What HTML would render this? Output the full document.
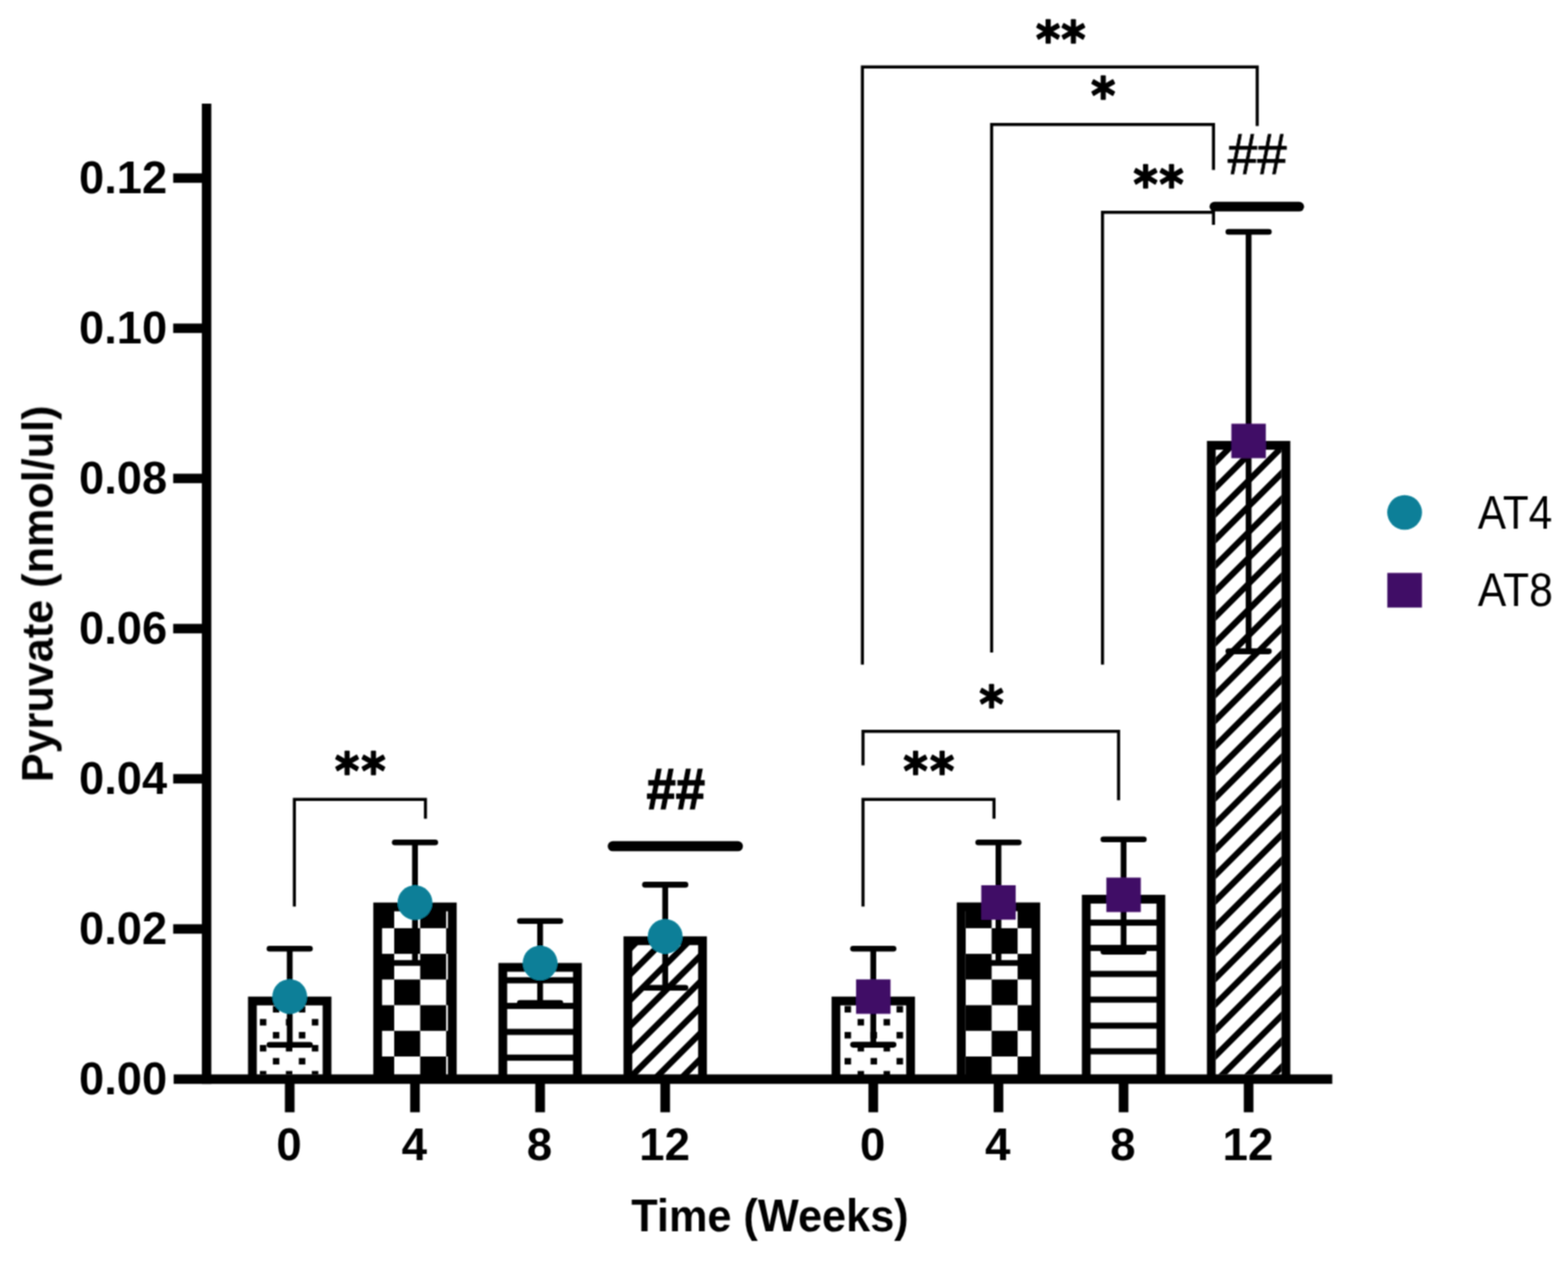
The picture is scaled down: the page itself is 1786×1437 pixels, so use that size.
<!DOCTYPE html><html><head><meta charset="utf-8"><title>Pyruvate</title><style>html,body{margin:0;padding:0;background:#fff;}svg{display:block;}</style></head><body>
<svg width="1786" height="1437" viewBox="0 0 1786 1437">
<rect width="100%" height="100%" fill="#fff"/>
<defs>
<filter id="soft" x="0" y="0" width="1786" height="1437" filterUnits="userSpaceOnUse"><feConvolveMatrix order="3" kernelMatrix="1 2 1 2 4 2 1 2 1" edgeMode="duplicate"/></filter>
<clipPath id="cb0"><rect x="292.50" y="1144.80" width="75.00" height="78.60"/></clipPath>
<clipPath id="cb1"><rect x="435.20" y="1037.70" width="75.00" height="185.70"/></clipPath>
<clipPath id="cb2"><rect x="577.70" y="1106.50" width="75.00" height="116.90"/></clipPath>
<clipPath id="cb3"><rect x="720.20" y="1076.20" width="75.00" height="147.20"/></clipPath>
<clipPath id="cb4"><rect x="957.20" y="1144.80" width="75.00" height="78.60"/></clipPath>
<clipPath id="cb5"><rect x="1099.80" y="1037.60" width="75.00" height="185.80"/></clipPath>
<clipPath id="cb6"><rect x="1242.30" y="1028.90" width="75.00" height="194.50"/></clipPath>
<clipPath id="cb7"><rect x="1384.70" y="512.10" width="75.00" height="711.30"/></clipPath>
</defs>
<g filter="url(#soft)">
<g clip-path="url(#cb0)" fill="#000"><rect x="222.00" y="1145.50" width="7.4" height="7.4"/><rect x="222.00" y="1175.10" width="7.4" height="7.4"/><rect x="222.00" y="1204.70" width="7.4" height="7.4"/><rect x="222.00" y="1234.30" width="7.4" height="7.4"/><rect x="251.60" y="1145.50" width="7.4" height="7.4"/><rect x="251.60" y="1175.10" width="7.4" height="7.4"/><rect x="251.60" y="1204.70" width="7.4" height="7.4"/><rect x="251.60" y="1234.30" width="7.4" height="7.4"/><rect x="281.20" y="1145.50" width="7.4" height="7.4"/><rect x="281.20" y="1175.10" width="7.4" height="7.4"/><rect x="281.20" y="1204.70" width="7.4" height="7.4"/><rect x="281.20" y="1234.30" width="7.4" height="7.4"/><rect x="310.80" y="1145.50" width="7.4" height="7.4"/><rect x="310.80" y="1175.10" width="7.4" height="7.4"/><rect x="310.80" y="1204.70" width="7.4" height="7.4"/><rect x="310.80" y="1234.30" width="7.4" height="7.4"/><rect x="340.40" y="1145.50" width="7.4" height="7.4"/><rect x="340.40" y="1175.10" width="7.4" height="7.4"/><rect x="340.40" y="1204.70" width="7.4" height="7.4"/><rect x="340.40" y="1234.30" width="7.4" height="7.4"/><rect x="370.00" y="1145.50" width="7.4" height="7.4"/><rect x="370.00" y="1175.10" width="7.4" height="7.4"/><rect x="370.00" y="1204.70" width="7.4" height="7.4"/><rect x="370.00" y="1234.30" width="7.4" height="7.4"/><rect x="399.60" y="1145.50" width="7.4" height="7.4"/><rect x="399.60" y="1175.10" width="7.4" height="7.4"/><rect x="399.60" y="1204.70" width="7.4" height="7.4"/><rect x="399.60" y="1234.30" width="7.4" height="7.4"/><rect x="429.20" y="1145.50" width="7.4" height="7.4"/><rect x="429.20" y="1175.10" width="7.4" height="7.4"/><rect x="429.20" y="1204.70" width="7.4" height="7.4"/><rect x="429.20" y="1234.30" width="7.4" height="7.4"/><rect x="236.80" y="1130.70" width="7.4" height="7.4"/><rect x="236.80" y="1160.30" width="7.4" height="7.4"/><rect x="236.80" y="1189.90" width="7.4" height="7.4"/><rect x="236.80" y="1219.50" width="7.4" height="7.4"/><rect x="266.40" y="1130.70" width="7.4" height="7.4"/><rect x="266.40" y="1160.30" width="7.4" height="7.4"/><rect x="266.40" y="1189.90" width="7.4" height="7.4"/><rect x="266.40" y="1219.50" width="7.4" height="7.4"/><rect x="296.00" y="1130.70" width="7.4" height="7.4"/><rect x="296.00" y="1160.30" width="7.4" height="7.4"/><rect x="296.00" y="1189.90" width="7.4" height="7.4"/><rect x="296.00" y="1219.50" width="7.4" height="7.4"/><rect x="325.60" y="1130.70" width="7.4" height="7.4"/><rect x="325.60" y="1160.30" width="7.4" height="7.4"/><rect x="325.60" y="1189.90" width="7.4" height="7.4"/><rect x="325.60" y="1219.50" width="7.4" height="7.4"/><rect x="355.20" y="1130.70" width="7.4" height="7.4"/><rect x="355.20" y="1160.30" width="7.4" height="7.4"/><rect x="355.20" y="1189.90" width="7.4" height="7.4"/><rect x="355.20" y="1219.50" width="7.4" height="7.4"/><rect x="384.80" y="1130.70" width="7.4" height="7.4"/><rect x="384.80" y="1160.30" width="7.4" height="7.4"/><rect x="384.80" y="1189.90" width="7.4" height="7.4"/><rect x="384.80" y="1219.50" width="7.4" height="7.4"/><rect x="414.40" y="1130.70" width="7.4" height="7.4"/><rect x="414.40" y="1160.30" width="7.4" height="7.4"/><rect x="414.40" y="1189.90" width="7.4" height="7.4"/><rect x="414.40" y="1219.50" width="7.4" height="7.4"/></g>
<g clip-path="url(#cb1)" fill="#000"><rect x="360.20" y="1027.68" width="29.60" height="29.22"/><rect x="360.20" y="1086.12" width="29.60" height="29.22"/><rect x="360.20" y="1144.56" width="29.60" height="29.22"/><rect x="360.20" y="1203.00" width="29.60" height="29.22"/><rect x="389.80" y="998.46" width="29.60" height="29.22"/><rect x="389.80" y="1056.90" width="29.60" height="29.22"/><rect x="389.80" y="1115.34" width="29.60" height="29.22"/><rect x="389.80" y="1173.78" width="29.60" height="29.22"/><rect x="389.80" y="1232.22" width="29.60" height="29.22"/><rect x="419.40" y="1027.68" width="29.60" height="29.22"/><rect x="419.40" y="1086.12" width="29.60" height="29.22"/><rect x="419.40" y="1144.56" width="29.60" height="29.22"/><rect x="419.40" y="1203.00" width="29.60" height="29.22"/><rect x="449.00" y="998.46" width="29.60" height="29.22"/><rect x="449.00" y="1056.90" width="29.60" height="29.22"/><rect x="449.00" y="1115.34" width="29.60" height="29.22"/><rect x="449.00" y="1173.78" width="29.60" height="29.22"/><rect x="449.00" y="1232.22" width="29.60" height="29.22"/><rect x="478.60" y="1027.68" width="29.60" height="29.22"/><rect x="478.60" y="1086.12" width="29.60" height="29.22"/><rect x="478.60" y="1144.56" width="29.60" height="29.22"/><rect x="478.60" y="1203.00" width="29.60" height="29.22"/><rect x="508.20" y="998.46" width="29.60" height="29.22"/><rect x="508.20" y="1056.90" width="29.60" height="29.22"/><rect x="508.20" y="1115.34" width="29.60" height="29.22"/><rect x="508.20" y="1173.78" width="29.60" height="29.22"/><rect x="508.20" y="1232.22" width="29.60" height="29.22"/><rect x="537.80" y="1027.68" width="29.60" height="29.22"/><rect x="537.80" y="1086.12" width="29.60" height="29.22"/><rect x="537.80" y="1144.56" width="29.60" height="29.22"/><rect x="537.80" y="1203.00" width="29.60" height="29.22"/></g>
<g clip-path="url(#cb2)" fill="#000"><rect x="565.20" y="1112.70" width="100" height="7"/><rect x="565.20" y="1141.90" width="100" height="7"/><rect x="565.20" y="1171.50" width="100" height="7"/><rect x="565.20" y="1200.80" width="100" height="7"/></g>
<g clip-path="url(#cb3)" stroke="#000" stroke-width="7"><line x1="697.70" y1="1070.70" x2="817.70" y2="950.70"/><line x1="697.70" y1="1100.10" x2="817.70" y2="980.10"/><line x1="697.70" y1="1129.50" x2="817.70" y2="1009.50"/><line x1="697.70" y1="1158.90" x2="817.70" y2="1038.90"/><line x1="697.70" y1="1188.30" x2="817.70" y2="1068.30"/><line x1="697.70" y1="1217.70" x2="817.70" y2="1097.70"/><line x1="697.70" y1="1247.10" x2="817.70" y2="1127.10"/><line x1="697.70" y1="1276.50" x2="817.70" y2="1156.50"/><line x1="697.70" y1="1305.90" x2="817.70" y2="1185.90"/><line x1="697.70" y1="1335.30" x2="817.70" y2="1215.30"/><line x1="697.70" y1="1364.70" x2="817.70" y2="1244.70"/></g>
<g clip-path="url(#cb4)" fill="#000"><rect x="902.80" y="1145.50" width="7.4" height="7.4"/><rect x="902.80" y="1175.10" width="7.4" height="7.4"/><rect x="902.80" y="1204.70" width="7.4" height="7.4"/><rect x="902.80" y="1234.30" width="7.4" height="7.4"/><rect x="932.40" y="1145.50" width="7.4" height="7.4"/><rect x="932.40" y="1175.10" width="7.4" height="7.4"/><rect x="932.40" y="1204.70" width="7.4" height="7.4"/><rect x="932.40" y="1234.30" width="7.4" height="7.4"/><rect x="962.00" y="1145.50" width="7.4" height="7.4"/><rect x="962.00" y="1175.10" width="7.4" height="7.4"/><rect x="962.00" y="1204.70" width="7.4" height="7.4"/><rect x="962.00" y="1234.30" width="7.4" height="7.4"/><rect x="991.60" y="1145.50" width="7.4" height="7.4"/><rect x="991.60" y="1175.10" width="7.4" height="7.4"/><rect x="991.60" y="1204.70" width="7.4" height="7.4"/><rect x="991.60" y="1234.30" width="7.4" height="7.4"/><rect x="1021.20" y="1145.50" width="7.4" height="7.4"/><rect x="1021.20" y="1175.10" width="7.4" height="7.4"/><rect x="1021.20" y="1204.70" width="7.4" height="7.4"/><rect x="1021.20" y="1234.30" width="7.4" height="7.4"/><rect x="1050.80" y="1145.50" width="7.4" height="7.4"/><rect x="1050.80" y="1175.10" width="7.4" height="7.4"/><rect x="1050.80" y="1204.70" width="7.4" height="7.4"/><rect x="1050.80" y="1234.30" width="7.4" height="7.4"/><rect x="1080.40" y="1145.50" width="7.4" height="7.4"/><rect x="1080.40" y="1175.10" width="7.4" height="7.4"/><rect x="1080.40" y="1204.70" width="7.4" height="7.4"/><rect x="1080.40" y="1234.30" width="7.4" height="7.4"/><rect x="888.00" y="1130.70" width="7.4" height="7.4"/><rect x="888.00" y="1160.30" width="7.4" height="7.4"/><rect x="888.00" y="1189.90" width="7.4" height="7.4"/><rect x="888.00" y="1219.50" width="7.4" height="7.4"/><rect x="917.60" y="1130.70" width="7.4" height="7.4"/><rect x="917.60" y="1160.30" width="7.4" height="7.4"/><rect x="917.60" y="1189.90" width="7.4" height="7.4"/><rect x="917.60" y="1219.50" width="7.4" height="7.4"/><rect x="947.20" y="1130.70" width="7.4" height="7.4"/><rect x="947.20" y="1160.30" width="7.4" height="7.4"/><rect x="947.20" y="1189.90" width="7.4" height="7.4"/><rect x="947.20" y="1219.50" width="7.4" height="7.4"/><rect x="976.80" y="1130.70" width="7.4" height="7.4"/><rect x="976.80" y="1160.30" width="7.4" height="7.4"/><rect x="976.80" y="1189.90" width="7.4" height="7.4"/><rect x="976.80" y="1219.50" width="7.4" height="7.4"/><rect x="1006.40" y="1130.70" width="7.4" height="7.4"/><rect x="1006.40" y="1160.30" width="7.4" height="7.4"/><rect x="1006.40" y="1189.90" width="7.4" height="7.4"/><rect x="1006.40" y="1219.50" width="7.4" height="7.4"/><rect x="1036.00" y="1130.70" width="7.4" height="7.4"/><rect x="1036.00" y="1160.30" width="7.4" height="7.4"/><rect x="1036.00" y="1189.90" width="7.4" height="7.4"/><rect x="1036.00" y="1219.50" width="7.4" height="7.4"/><rect x="1065.60" y="1130.70" width="7.4" height="7.4"/><rect x="1065.60" y="1160.30" width="7.4" height="7.4"/><rect x="1065.60" y="1189.90" width="7.4" height="7.4"/><rect x="1065.60" y="1219.50" width="7.4" height="7.4"/><rect x="1095.20" y="1130.70" width="7.4" height="7.4"/><rect x="1095.20" y="1160.30" width="7.4" height="7.4"/><rect x="1095.20" y="1189.90" width="7.4" height="7.4"/><rect x="1095.20" y="1219.50" width="7.4" height="7.4"/></g>
<g clip-path="url(#cb5)" fill="#000"><rect x="1040.70" y="1027.68" width="29.60" height="29.22"/><rect x="1040.70" y="1086.12" width="29.60" height="29.22"/><rect x="1040.70" y="1144.56" width="29.60" height="29.22"/><rect x="1040.70" y="1203.00" width="29.60" height="29.22"/><rect x="1070.30" y="998.46" width="29.60" height="29.22"/><rect x="1070.30" y="1056.90" width="29.60" height="29.22"/><rect x="1070.30" y="1115.34" width="29.60" height="29.22"/><rect x="1070.30" y="1173.78" width="29.60" height="29.22"/><rect x="1070.30" y="1232.22" width="29.60" height="29.22"/><rect x="1099.90" y="1027.68" width="29.60" height="29.22"/><rect x="1099.90" y="1086.12" width="29.60" height="29.22"/><rect x="1099.90" y="1144.56" width="29.60" height="29.22"/><rect x="1099.90" y="1203.00" width="29.60" height="29.22"/><rect x="1129.50" y="998.46" width="29.60" height="29.22"/><rect x="1129.50" y="1056.90" width="29.60" height="29.22"/><rect x="1129.50" y="1115.34" width="29.60" height="29.22"/><rect x="1129.50" y="1173.78" width="29.60" height="29.22"/><rect x="1129.50" y="1232.22" width="29.60" height="29.22"/><rect x="1159.10" y="1027.68" width="29.60" height="29.22"/><rect x="1159.10" y="1086.12" width="29.60" height="29.22"/><rect x="1159.10" y="1144.56" width="29.60" height="29.22"/><rect x="1159.10" y="1203.00" width="29.60" height="29.22"/><rect x="1188.70" y="998.46" width="29.60" height="29.22"/><rect x="1188.70" y="1056.90" width="29.60" height="29.22"/><rect x="1188.70" y="1115.34" width="29.60" height="29.22"/><rect x="1188.70" y="1173.78" width="29.60" height="29.22"/><rect x="1188.70" y="1232.22" width="29.60" height="29.22"/><rect x="1218.30" y="1027.68" width="29.60" height="29.22"/><rect x="1218.30" y="1086.12" width="29.60" height="29.22"/><rect x="1218.30" y="1144.56" width="29.60" height="29.22"/><rect x="1218.30" y="1203.00" width="29.60" height="29.22"/></g>
<g clip-path="url(#cb6)" fill="#000"><rect x="1229.80" y="1047.10" width="100" height="7"/><rect x="1229.80" y="1075.90" width="100" height="7"/><rect x="1229.80" y="1105.50" width="100" height="7"/><rect x="1229.80" y="1134.70" width="100" height="7"/><rect x="1229.80" y="1164.40" width="100" height="7"/><rect x="1229.80" y="1193.60" width="100" height="7"/></g>
<g clip-path="url(#cb7)" stroke="#000" stroke-width="7"><line x1="1362.20" y1="489.50" x2="1482.20" y2="369.50"/><line x1="1362.20" y1="518.90" x2="1482.20" y2="398.90"/><line x1="1362.20" y1="548.30" x2="1482.20" y2="428.30"/><line x1="1362.20" y1="577.70" x2="1482.20" y2="457.70"/><line x1="1362.20" y1="607.10" x2="1482.20" y2="487.10"/><line x1="1362.20" y1="636.50" x2="1482.20" y2="516.50"/><line x1="1362.20" y1="665.90" x2="1482.20" y2="545.90"/><line x1="1362.20" y1="695.30" x2="1482.20" y2="575.30"/><line x1="1362.20" y1="724.70" x2="1482.20" y2="604.70"/><line x1="1362.20" y1="754.10" x2="1482.20" y2="634.10"/><line x1="1362.20" y1="783.50" x2="1482.20" y2="663.50"/><line x1="1362.20" y1="812.90" x2="1482.20" y2="692.90"/><line x1="1362.20" y1="842.30" x2="1482.20" y2="722.30"/><line x1="1362.20" y1="871.70" x2="1482.20" y2="751.70"/><line x1="1362.20" y1="901.10" x2="1482.20" y2="781.10"/><line x1="1362.20" y1="930.50" x2="1482.20" y2="810.50"/><line x1="1362.20" y1="959.90" x2="1482.20" y2="839.90"/><line x1="1362.20" y1="989.30" x2="1482.20" y2="869.30"/><line x1="1362.20" y1="1018.70" x2="1482.20" y2="898.70"/><line x1="1362.20" y1="1048.10" x2="1482.20" y2="928.10"/><line x1="1362.20" y1="1077.50" x2="1482.20" y2="957.50"/><line x1="1362.20" y1="1106.90" x2="1482.20" y2="986.90"/><line x1="1362.20" y1="1136.30" x2="1482.20" y2="1016.30"/><line x1="1362.20" y1="1165.70" x2="1482.20" y2="1045.70"/><line x1="1362.20" y1="1195.10" x2="1482.20" y2="1075.10"/><line x1="1362.20" y1="1224.50" x2="1482.20" y2="1104.50"/><line x1="1362.20" y1="1253.90" x2="1482.20" y2="1133.90"/><line x1="1362.20" y1="1283.30" x2="1482.20" y2="1163.30"/><line x1="1362.20" y1="1312.70" x2="1482.20" y2="1192.70"/><line x1="1362.20" y1="1342.10" x2="1482.20" y2="1222.10"/></g>
<rect x="287.50" y="1139.80" width="85.00" height="89.00" fill="none" stroke="#000" stroke-width="10.0"/>
<rect x="430.20" y="1032.70" width="85.00" height="196.10" fill="none" stroke="#000" stroke-width="10.0"/>
<rect x="572.70" y="1101.50" width="85.00" height="127.30" fill="none" stroke="#000" stroke-width="10.0"/>
<rect x="715.20" y="1071.20" width="85.00" height="157.60" fill="none" stroke="#000" stroke-width="10.0"/>
<rect x="952.20" y="1139.80" width="85.00" height="89.00" fill="none" stroke="#000" stroke-width="10.0"/>
<rect x="1094.80" y="1032.60" width="85.00" height="196.20" fill="none" stroke="#000" stroke-width="10.0"/>
<rect x="1237.30" y="1023.90" width="85.00" height="204.90" fill="none" stroke="#000" stroke-width="10.0"/>
<rect x="1379.70" y="507.10" width="85.00" height="721.70" fill="none" stroke="#000" stroke-width="10.0"/>
<rect x="229.9" y="118" width="10.8" height="1116.2" fill="#000"/>
<rect x="197.8" y="1223.4" width="1319.7" height="10.8" fill="#000"/>
<rect x="197.3" y="1052.40" width="34" height="10.8" fill="#000"/>
<rect x="197.3" y="881.40" width="34" height="10.8" fill="#000"/>
<rect x="197.3" y="710.40" width="34" height="10.8" fill="#000"/>
<rect x="197.3" y="539.40" width="34" height="10.8" fill="#000"/>
<rect x="197.3" y="368.40" width="34" height="10.8" fill="#000"/>
<rect x="197.3" y="197.40" width="34" height="10.8" fill="#000"/>
<rect x="324.50" y="1230" width="11" height="36.5" fill="#000"/>
<rect x="467.20" y="1230" width="11" height="36.5" fill="#000"/>
<rect x="609.70" y="1230" width="11" height="36.5" fill="#000"/>
<rect x="752.20" y="1230" width="11" height="36.5" fill="#000"/>
<rect x="989.20" y="1230" width="11" height="36.5" fill="#000"/>
<rect x="1131.80" y="1230" width="11" height="36.5" fill="#000"/>
<rect x="1274.30" y="1230" width="11" height="36.5" fill="#000"/>
<rect x="1416.70" y="1230" width="11" height="36.5" fill="#000"/>
<g stroke="#000" stroke-width="6.6" stroke-linecap="round">
<line x1="330.0" y1="1080.3" x2="330.0" y2="1189.7" stroke-linecap="butt"/>
<line x1="307.0" y1="1080.3" x2="353.0" y2="1080.3"/>
<line x1="307.0" y1="1189.7" x2="353.0" y2="1189.7"/>
<line x1="472.7" y1="959.2" x2="472.7" y2="1096.5" stroke-linecap="butt"/>
<line x1="449.7" y1="959.2" x2="495.7" y2="959.2"/>
<line x1="449.7" y1="1096.5" x2="495.7" y2="1096.5"/>
<line x1="615.2" y1="1048.7" x2="615.2" y2="1142.0" stroke-linecap="butt"/>
<line x1="592.2" y1="1048.7" x2="638.2" y2="1048.7"/>
<line x1="592.2" y1="1142.0" x2="638.2" y2="1142.0"/>
<line x1="757.7" y1="1007.4" x2="757.7" y2="1124.8" stroke-linecap="butt"/>
<line x1="734.7" y1="1007.4" x2="780.7" y2="1007.4"/>
<line x1="734.7" y1="1124.8" x2="780.7" y2="1124.8"/>
<line x1="994.7" y1="1080.3" x2="994.7" y2="1189.6" stroke-linecap="butt"/>
<line x1="971.7" y1="1080.3" x2="1017.7" y2="1080.3"/>
<line x1="971.7" y1="1189.6" x2="1017.7" y2="1189.6"/>
<line x1="1137.3" y1="959.2" x2="1137.3" y2="1096.5" stroke-linecap="butt"/>
<line x1="1114.3" y1="959.2" x2="1160.3" y2="959.2"/>
<line x1="1114.3" y1="1096.5" x2="1160.3" y2="1096.5"/>
<line x1="1279.8" y1="955.7" x2="1279.8" y2="1083.6" stroke-linecap="butt"/>
<line x1="1256.8" y1="955.7" x2="1302.8" y2="955.7"/>
<line x1="1256.8" y1="1083.6" x2="1302.8" y2="1083.6"/>
<line x1="1422.2" y1="264.0" x2="1422.2" y2="741.6" stroke-linecap="butt"/>
<line x1="1399.2" y1="264.0" x2="1445.2" y2="264.0"/>
<line x1="1399.2" y1="741.6" x2="1445.2" y2="741.6"/>
</g>
<circle cx="330.0" cy="1134.8" r="19.8" fill="#077f98"/>
<circle cx="472.7" cy="1027.7" r="19.8" fill="#077f98"/>
<circle cx="615.2" cy="1096.5" r="19.8" fill="#077f98"/>
<circle cx="757.7" cy="1066.2" r="19.8" fill="#077f98"/>
<rect x="975.10" y="1115.20" width="39.2" height="39.2" fill="#400a66"/>
<rect x="1117.70" y="1008.00" width="39.2" height="39.2" fill="#400a66"/>
<rect x="1260.20" y="999.30" width="39.2" height="39.2" fill="#400a66"/>
<rect x="1402.60" y="482.50" width="39.2" height="39.2" fill="#400a66"/>
<g stroke="#000" stroke-width="3.5" fill="none" stroke-linejoin="miter">
<path d="M982.3 756.7 V76.2 H1432.0 V143.5"/>
<path d="M1129.5 743.0 V141.8 H1382.2 V193.6"/>
<path d="M1255.8 756.7 V241.7 H1382.2 V256.0"/>
<path d="M983.0 871.6 V832.8 H1274.1 V911.2"/>
<path d="M983.0 1032.2 V910.3 H1132.2 V932.2"/>
<path d="M335.3 1032.2 V910.3 H484.6 V932.3"/>
</g>
<g stroke="#000" stroke-linecap="round">
<line x1="698" y1="963.6" x2="840.5" y2="963.6" stroke-width="11.5"/>
<line x1="1383.2" y1="235.3" x2="1479.9" y2="235.3" stroke-width="11"/>
</g>
<text x="190.3" y="1246.0" font-size="51.5" font-weight="bold" text-anchor="end" font-family="Liberation Sans, Arial, sans-serif">0.00</text>
<text x="190.3" y="1075.0" font-size="51.5" font-weight="bold" text-anchor="end" font-family="Liberation Sans, Arial, sans-serif">0.02</text>
<text x="190.3" y="904.0" font-size="51.5" font-weight="bold" text-anchor="end" font-family="Liberation Sans, Arial, sans-serif">0.04</text>
<text x="190.3" y="733.0" font-size="51.5" font-weight="bold" text-anchor="end" font-family="Liberation Sans, Arial, sans-serif">0.06</text>
<text x="190.3" y="562.0" font-size="51.5" font-weight="bold" text-anchor="end" font-family="Liberation Sans, Arial, sans-serif">0.08</text>
<text x="190.3" y="390.99999999999994" font-size="51.5" font-weight="bold" text-anchor="end" font-family="Liberation Sans, Arial, sans-serif">0.10</text>
<text x="190.3" y="219.99999999999994" font-size="51.5" font-weight="bold" text-anchor="end" font-family="Liberation Sans, Arial, sans-serif">0.12</text>
<text x="329.2" y="1321.0" font-size="52" font-weight="bold" text-anchor="middle" font-family="Liberation Sans, Arial, sans-serif">0</text>
<text x="471.9" y="1321.0" font-size="52" font-weight="bold" text-anchor="middle" font-family="Liberation Sans, Arial, sans-serif">4</text>
<text x="614.4000000000001" y="1321.0" font-size="52" font-weight="bold" text-anchor="middle" font-family="Liberation Sans, Arial, sans-serif">8</text>
<text x="756.9000000000001" y="1321.0" font-size="52" font-weight="bold" text-anchor="middle" font-family="Liberation Sans, Arial, sans-serif">12</text>
<text x="993.9000000000001" y="1321.0" font-size="52" font-weight="bold" text-anchor="middle" font-family="Liberation Sans, Arial, sans-serif">0</text>
<text x="1136.5" y="1321.0" font-size="52" font-weight="bold" text-anchor="middle" font-family="Liberation Sans, Arial, sans-serif">4</text>
<text x="1279.0" y="1321.0" font-size="52" font-weight="bold" text-anchor="middle" font-family="Liberation Sans, Arial, sans-serif">8</text>
<text x="1421.4" y="1321.0" font-size="52" font-weight="bold" text-anchor="middle" font-family="Liberation Sans, Arial, sans-serif">12</text>
<text x="719.0" y="1402.1" font-size="51.5" font-weight="bold" text-anchor="start" font-family="Liberation Sans, Arial, sans-serif" textLength="316" lengthAdjust="spacingAndGlyphs">Time (Weeks)</text>
<text transform="translate(60.2,890.6) rotate(-90)" x="0" y="0" font-size="50.5" font-weight="bold" font-family="Liberation Sans, Arial, sans-serif" textLength="428.8" lengthAdjust="spacingAndGlyphs">Pyruvate (nmol/ul)</text>
<circle cx="1599.9" cy="583.5" r="19.8" fill="#077f98"/>
<rect x="1580.2" y="652.4" width="39.4" height="39.4" fill="#400a66"/>
<text x="1683.3" y="601.5" font-size="53.6" font-weight="normal" text-anchor="start" font-family="Liberation Sans, Arial, sans-serif" textLength="84.8" lengthAdjust="spacingAndGlyphs">AT4</text>
<text x="1683.3" y="690.0" font-size="53.6" font-weight="normal" text-anchor="start" font-family="Liberation Sans, Arial, sans-serif" textLength="85.5" lengthAdjust="spacingAndGlyphs">AT8</text>
<text transform="scale(0.93,1)" x="1268.71 1299.82" y="64.90" font-size="57" font-weight="bold" font-family="DejaVu Sans, sans-serif" stroke="#000" stroke-width="1.6" stroke-linejoin="round">**</text>
<text transform="scale(0.93,1)" x="1336.24" y="129.20" font-size="57" font-weight="bold" font-family="DejaVu Sans, sans-serif" stroke="#000" stroke-width="1.6" stroke-linejoin="round">*</text>
<text transform="scale(0.93,1)" x="1388.17 1420.03" y="230.50" font-size="57" font-weight="bold" font-family="DejaVu Sans, sans-serif" stroke="#000" stroke-width="1.6" stroke-linejoin="round">**</text>
<text transform="scale(0.93,1)" x="1199.46" y="821.60" font-size="57" font-weight="bold" font-family="DejaVu Sans, sans-serif" stroke="#000" stroke-width="1.6" stroke-linejoin="round">*</text>
<text transform="scale(0.93,1)" x="1106.34 1139.06" y="897.80" font-size="57" font-weight="bold" font-family="DejaVu Sans, sans-serif" stroke="#000" stroke-width="1.6" stroke-linejoin="round">**</text>
<text transform="scale(0.93,1)" x="410.11 442.51" y="898.10" font-size="57" font-weight="bold" font-family="DejaVu Sans, sans-serif" stroke="#000" stroke-width="1.6" stroke-linejoin="round">**</text>
<text x="1398.5" y="197.7" font-size="64" font-weight="normal" text-anchor="start" font-family="Liberation Sans, Arial, sans-serif" textLength="67" lengthAdjust="spacingAndGlyphs" stroke="#000" stroke-width="0.9">##</text>
<text x="736.6" y="920.6" font-size="64.5" font-weight="bold" text-anchor="start" font-family="Liberation Sans, Arial, sans-serif" textLength="66.5" lengthAdjust="spacingAndGlyphs" stroke="#000" stroke-width="1.4">##</text>
</g>
</svg></body></html>
